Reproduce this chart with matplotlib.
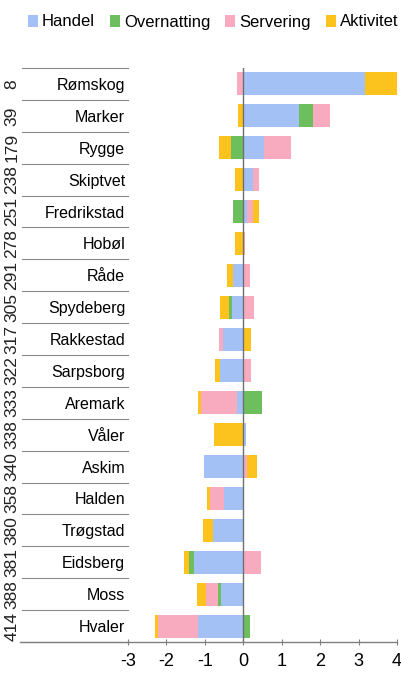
import matplotlib
matplotlib.use("Agg")
import matplotlib.pyplot as plt
import matplotlib.transforms as mtransforms
from matplotlib.lines import Line2D
from matplotlib.patches import Patch
import numpy as np

plt.rcParams['font.family'] = ['Liberation Sans', 'DejaVu Sans']

categories = ["Rømskog", "Marker", "Rygge", "Skiptvet", "Fredrikstad", "Hobøl", "Råde",
              "Spydeberg", "Rakkestad", "Sarpsborg", "Aremark", "Våler", "Askim",
              "Halden", "Trøgstad", "Eidsberg", "Moss", "Hvaler"]
ranks = ["8", "39", "179", "238", "251", "278", "291", "305", "317", "322", "333",
         "338", "340", "358", "380", "381", "388", "414"]

series_names = ["Handel", "Overnatting", "Servering", "Aktivitet"]
handel = [3.18, 1.46, 0.53, 0.25, 0.10, 0.00, -0.26, -0.30, -0.53, -0.60, -0.17, 0.08,
          -1.03, -0.50, -0.80, -1.27, -0.58, -1.18]
overnatting = [0.00, 0.35, -0.32, 0.00, -0.28, 0.00, 0.00, -0.08, 0.00, 0.00, 0.50, 0.00,
               0.00, 0.00, 0.00, -0.14, -0.09, 0.18]
servering = [-0.17, 0.44, 0.70, 0.15, 0.15, 0.04, 0.18, 0.27, -0.09, 0.20, -0.92, 0.00,
             0.10, -0.37, 0.00, 0.45, -0.31, -1.05]
aktivitet = [0.91, -0.13, -0.32, -0.22, 0.17, -0.22, -0.16, -0.22, 0.20, -0.13, -0.08, -0.75,
             0.25, -0.07, -0.25, -0.14, -0.23, -0.08]
x_ticks = [-3, -2, -1, 0, 1, 2, 3, 4]

colors = ["#a3c1f5", "#6cbf5c", "#f8abbf", "#fcc31e"]

W, H = 402, 680
fig = plt.figure(figsize=(W / 100, H / 100), dpi=100)
left_px, right_px, top_px, bot_px = 128, 397, 68, 642
ax = fig.add_axes([left_px / W, 1 - bot_px / H, (right_px - left_px) / W, (bot_px - top_px) / H])

y = np.arange(len(categories))
pos = np.zeros(len(categories))
neg = np.zeros(len(categories))
for name, vals, col in zip(series_names, [handel, overnatting, servering, aktivitet], colors):
    v = np.array(vals)
    left = np.where(v >= 0, pos, neg)
    ax.barh(y, v, left=left, height=0.72, color=col, edgecolor='none', label=name, zorder=2)
    pos = pos + np.where(v >= 0, v, 0)
    neg = neg + np.where(v < 0, v, 0)

ax.set_xlim(-3, 4)
ax.set_ylim(len(categories) - 0.5, -0.5)
ax.axvline(0, color='#707070', lw=1.0, zorder=3)

for s in ['top', 'right', 'left']:
    ax.spines[s].set_visible(False)
ax.spines['bottom'].set_color('#808080')
ax.spines['bottom'].set_linewidth(1.0)

ax.set_xticks(x_ticks)
ax.set_xticklabels([str(t) for t in x_ticks], fontsize=13)
ax.tick_params(axis='x', direction='inout', length=4, color='#808080', pad=6)
ax.set_yticks(y)
ax.set_yticklabels(categories, fontsize=11.5)
ax.tick_params(axis='y', length=0, pad=2)

# Rank numbers (rotated) on the far left
tr = mtransforms.blended_transform_factory(fig.transFigure, ax.transData)
for i, r in enumerate(ranks):
    ax.text(12 / W, i, r, transform=tr, rotation=90, ha='center', va='center',
            fontsize=12.5, color='#222222', clip_on=False)

# Separator lines in label area
for b in np.arange(-0.5, len(categories), 1.0):
    ax.add_line(Line2D([22 / W, left_px / W], [b, b], transform=tr, color='#8a8a8a',
                       lw=0.8, clip_on=False))
fig.add_artist(Line2D([20 / W, left_px / W], [1 - bot_px / H, 1 - bot_px / H],
                      transform=fig.transFigure, color='#808080', lw=1.0))

# Legend
handles = [Patch(facecolor=c, edgecolor='none') for c in colors]
fig.legend(handles, series_names, loc='center', bbox_to_anchor=(0.53, 1 - 22 / H), ncol=4,
           frameon=False, fontsize=12, handlelength=0.6, handleheight=0.7,
           handletextpad=0.25, columnspacing=0.9, borderaxespad=0)

fig.savefig("out.png", dpi=100)
